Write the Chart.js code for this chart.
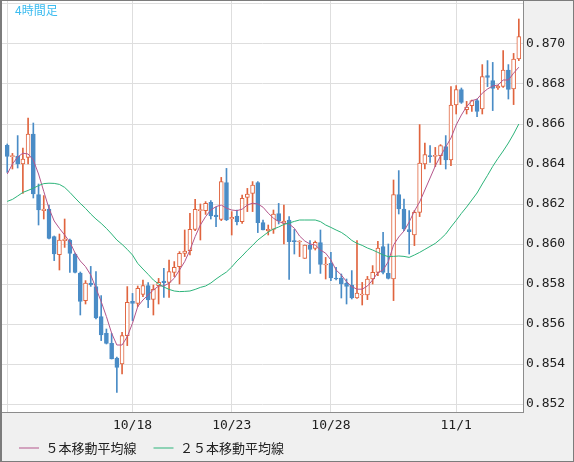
<!DOCTYPE html>
<html><head><meta charset="utf-8">
<script src="https://cdn.jsdelivr.net/npm/chart.js@4/dist/chart.umd.min.js"></script>
<style>
html,body{margin:0;padding:0;background:#f0f0f0;overflow:hidden;}
#wrap{position:relative;width:574px;height:462px;}
#c{display:block;}
#ttl{position:absolute;left:15px;top:2px;font-family:"Noto Sans CJK JP";font-size:12px;line-height:16px;color:#3bbcf0;}
</style></head><body>
<div id="wrap"><canvas id="c" width="574" height="462"></canvas><div id="ttl">4時間足</div></div>
<script>
const OPEN  = [0.86493,0.86437,0.86438,0.8640,0.86433,0.8655,0.86247,0.86167,0.86175,0.86037,
0.85947,0.86017,0.8602,0.8595,0.85855,0.85717,0.85805,0.85787,0.85637,0.85553,
0.85503,0.8543,0.854,0.85542,0.85713,0.85703,0.85748,0.85792,0.85723,0.85792,
0.85815,0.85808,0.85858,0.85887,0.85953,0.85967,0.86073,0.86167,0.86167,0.86208,
0.86145,0.86123,0.86307,0.86125,0.8614,0.86112,0.86233,0.86253,0.86307,0.86107,
0.86067,0.86073,0.86152,0.86103,0.8612,0.86017,0.8601,0.85928,0.85995,0.85978,
0.86007,0.85895,0.85903,0.8583,0.8583,0.85803,0.85795,0.8573,0.85745,0.85745,
0.85825,0.85858,0.85987,0.85853,0.85825,0.86247,0.86175,0.86072,0.86045,0.86158,
0.864,0.86442,0.86438,0.86442,0.86487,0.8642,0.86695,0.86772,0.86672,0.86692,
0.86717,0.86675,0.86842,0.86817,0.8678,0.86788,0.8687,0.86775,0.86925];
const HIGH  = [0.8650,0.86453,0.86542,0.8648,0.8663,0.86605,0.8630,0.86242,0.86195,0.8604,
0.8605,0.86125,0.86025,0.85955,0.8586,0.85817,0.85888,0.85862,0.85742,0.85575,
0.85553,0.85435,0.85558,0.85787,0.85753,0.8579,0.8582,0.85807,0.85795,0.85828,
0.85878,0.8592,0.85912,0.85962,0.8607,0.86153,0.86223,0.862,0.86212,0.86217,
0.86183,0.86333,0.86378,0.86162,0.8617,0.86245,0.86278,0.86312,0.86312,0.8612,
0.86095,0.8617,0.86203,0.86195,0.86137,0.86073,0.86017,0.85995,0.86017,0.86015,
0.8607,0.85933,0.85958,0.85883,0.8585,0.85825,0.85867,0.86017,0.85808,0.85838,
0.85892,0.86013,0.86058,0.860,0.8632,0.86367,0.86225,0.86167,0.86167,0.86597,
0.86505,0.86492,0.86483,0.86497,0.86542,0.86787,0.86792,0.8678,0.86713,0.8672,
0.86725,0.86897,0.86917,0.86908,0.86793,0.86967,0.86897,0.86953,0.87125];
const LOW   = [0.86358,0.86375,0.8638,0.86253,0.8640,0.8623,0.86095,0.86125,0.86025,0.85917,
0.8587,0.85983,0.85858,0.85855,0.85645,0.857,0.85788,0.85625,0.85517,0.8550,
0.85425,0.85258,0.8535,0.85492,0.85617,0.85687,0.85737,0.85682,0.85645,0.857,
0.85733,0.85733,0.85837,0.858,0.85937,0.85945,0.86067,0.8602,0.86148,0.86125,
0.86087,0.86117,0.86117,0.86045,0.86095,0.86103,0.86162,0.86162,0.86057,0.8607,
0.86045,0.86053,0.8610,0.860,0.85823,0.8595,0.85937,0.85928,0.85853,0.8597,
0.85853,0.85825,0.85817,0.8582,0.8573,0.857,0.85725,0.85728,0.85695,0.85722,
0.858,0.85842,0.8585,0.85825,0.85717,0.8615,0.86067,0.8595,0.85992,0.86137,
0.86375,0.86408,0.86387,0.86397,0.86375,0.86392,0.8665,0.86703,0.8665,0.86663,
0.86637,0.8665,0.86787,0.86667,0.86773,0.86783,0.86725,0.86697,0.86917];
const CLOSE = [0.86438,0.86442,0.8640,0.86425,0.8655,0.8625,0.8617,0.86175,0.86028,0.8595,
0.8602,0.86025,0.85953,0.85858,0.85713,0.85805,0.85795,0.8563,0.85545,0.85503,
0.85425,0.85383,0.85542,0.85708,0.85703,0.85778,0.85792,0.8572,0.85773,0.85808,
0.85807,0.85862,0.85883,0.85953,0.85965,0.86073,0.86173,0.86172,0.86203,0.8614,
0.86137,0.86312,0.8612,0.86133,0.86112,0.86228,0.8625,0.86295,0.86107,0.8607,
0.86073,0.8615,0.86117,0.86115,0.86012,0.86012,0.86015,0.85995,0.85973,0.86008,
0.85898,0.859,0.8583,0.85825,0.858,0.85788,0.8573,0.85755,0.8575,0.85825,
0.85858,0.8598,0.85858,0.85828,0.86247,0.86175,0.86075,0.86062,0.86158,0.86405,
0.86447,0.86437,0.86443,0.86492,0.8642,0.86695,0.86772,0.86708,0.86685,0.86717,
0.86663,0.86837,0.86833,0.86778,0.8679,0.8687,0.86773,0.86925,0.87037];
const MA5   = [0.8635,0.8640,0.86435,0.86454,0.8645,0.8642,0.8635,0.86263,0.86178,0.86115,
0.86078,0.86045,0.8601,0.85955,0.85915,0.85887,0.85845,0.85779,0.85712,0.85637,
0.85554,0.85495,0.85495,0.85537,0.85604,0.85687,0.8572,0.85745,0.8577,0.8579,
0.8579,0.85804,0.85829,0.8587,0.85912,0.8597,0.86037,0.86095,0.86137,0.8617,
0.86187,0.86195,0.86179,0.8617,0.86167,0.86174,0.86195,0.86204,0.862,0.86184,
0.86154,0.86129,0.86112,0.86104,0.861,0.86079,0.8604,0.86015,0.86,0.85995,
0.8597,0.85954,0.8592,0.8587,0.85845,0.85812,0.85787,0.85774,0.85774,0.8579,
0.8582,0.85857,0.8587,0.85912,0.85995,0.86035,0.86065,0.8611,0.86165,0.8621,
0.8627,0.8633,0.8639,0.8644,0.86485,0.8653,0.86595,0.86645,0.86687,0.86717,
0.86724,0.86754,0.86775,0.8679,0.86795,0.8682,0.8682,0.86854,0.86884];
const MA25  = [0.86213,0.86223,0.8624,0.86258,0.86268,0.86279,0.86292,0.86302,0.86304,0.86303,
0.86298,0.86283,0.86258,0.8623,0.86203,0.86178,0.8615,0.86125,0.86103,0.86078,
0.8605,0.8602,0.85998,0.85973,0.85945,0.85903,0.85875,0.85848,0.8582,0.858,
0.85785,0.85773,0.85765,0.85762,0.85763,0.85765,0.85773,0.85783,0.8579,0.85805,
0.85825,0.85843,0.8586,0.85885,0.85915,0.8594,0.85968,0.85993,0.8602,0.8604,
0.8606,0.86075,0.86085,0.86098,0.86105,0.86113,0.8612,0.8612,0.8612,0.8612,
0.86112,0.86095,0.86083,0.8607,0.86058,0.8604,0.86018,0.86003,0.85993,0.8598,
0.8597,0.85958,0.85945,0.85937,0.85938,0.8594,0.85938,0.85933,0.85945,0.85958,
0.85973,0.85988,0.86003,0.86025,0.8605,0.86085,0.86118,0.86153,0.86185,0.8622,
0.86255,0.863,0.86343,0.86388,0.86428,0.86465,0.86505,0.8655,0.866];
const X_TICK_POS    = [0, 24, 43, 62, 86];
const X_TICK_LABELS = ['', '10/18', '10/23', '10/28', '11/1'];
const Y_TICKS       = [0.852,0.854,0.856,0.858,0.860,0.862,0.864,0.866,0.868,0.870,0.872];
const Y_TICK_LABELS = ['0.852','0.854','0.856','0.858','0.860','0.862','0.864','0.866','0.868','0.870',''];
const SERIES_NAMES  = ['５本移動平均線', '２５本移動平均線'];

const RED = '#e0643e', BLUE = '#4a8cc6', PINK = '#b4568c', GREEN = '#2db47a';
const IDX = CLOSE.map((_, i) => i);
const up = i => CLOSE[i] >= OPEN[i];

const bgPlugin = {
  id: 'bg',
  beforeDraw(chart) {
    const {ctx, chartArea: a, width, height} = chart;
    ctx.save();
    ctx.fillStyle = '#f0f0f0'; ctx.fillRect(0, 0, width, height);
    ctx.fillStyle = '#ffffff'; ctx.fillRect(a.left, a.top, a.right - a.left, a.bottom - a.top);
    ctx.restore();
  },
  afterDraw(chart) {
    const {ctx, width, height} = chart;
    ctx.save();
    ctx.fillStyle = '#7c7c7c';
    ctx.fillRect(0, 0, 2, height);
    ctx.fillRect(0, 0, width, 1);
    ctx.fillRect(width - 1, 0, 1, height);
    ctx.fillRect(0, height - 1, width, 1);
    ctx.restore();
  }
};

const tickFont = {family: '"DejaVu Sans Mono"', size: 13};
const noPad = s => { s.paddingTop = 0; s.paddingBottom = 0; s.paddingLeft = 0; s.paddingRight = 0; };

new Chart(document.getElementById('c'), {
  type: 'bar',
  data: {
    datasets: [
      { label: 'wick', data: IDX.map(i => ({x: i, y: [LOW[i], HIGH[i]]})),
        backgroundColor: c => up(c.dataIndex) ? RED : BLUE, borderWidth: 0,
        barThickness: 1, grouped: false, order: 3 },
      { label: 'body', data: IDX.map(i => ({x: i, y: [OPEN[i], CLOSE[i]]})),
        backgroundColor: c => up(c.dataIndex) ? '#ffffff' : BLUE,
        borderColor: c => up(c.dataIndex) ? RED : BLUE, borderWidth: 1,
        borderSkipped: false, barThickness: 4, minBarLength: 1, grouped: false, order: 2 },
      { type: 'line', label: SERIES_NAMES[0], data: IDX.map(i => ({x: i, y: MA5[i]})),
        borderColor: PINK, backgroundColor: PINK, borderWidth: 1, pointRadius: 0, tension: 0, order: 1 },
      { type: 'line', label: SERIES_NAMES[1], data: IDX.map(i => ({x: i, y: MA25[i]})),
        borderColor: GREEN, backgroundColor: GREEN, borderWidth: 1, pointRadius: 0, tension: 0, order: 0 }
    ]
  },
  options: {
    responsive: false, devicePixelRatio: 1, animation: false, events: [],
    layout: {padding: {left: 2, top: 1, right: 0, bottom: 0}},
    scales: {
      x: {
        type: 'linear', min: -1, max: 98.8, offset: false,
        grid: {color: '#dedede', drawTicks: false, offset: false},
        border: {color: '#8c8c8c'},
        afterBuildTicks: s => { s.ticks = X_TICK_POS.map(v => ({value: v})); },
        afterFit: s => { s.height = 12.5; noPad(s); s._computeLabelArea = () => undefined; },
        ticks: {autoSkip: false, maxRotation: 0, padding: 6, color: '#222', font: tickFont,
                callback: (v, i) => X_TICK_LABELS[i]}
      },
      y: {
        type: 'linear', position: 'right', min: 0.8516, max: 0.87215,
        grid: {color: '#dedede', drawTicks: false},
        border: {color: '#8c8c8c'},
        afterBuildTicks: s => { s.ticks = Y_TICKS.map(v => ({value: v})); },
        afterFit: s => { s.width = 51; noPad(s); },
        ticks: {padding: 3, color: '#222', font: tickFont, callback: (v, i) => Y_TICK_LABELS[i]}
      }
    },
    plugins: {
      tooltip: {enabled: false},
      legend: {
        position: 'bottom', align: 'start', maxHeight: 37.5,
        labels: {
          usePointStyle: true, pointStyle: 'line', pointStyleWidth: 20, padding: 17,
          color: '#222', font: {family: '"Noto Sans CJK JP"', size: 13},
          filter: item => item.datasetIndex >= 2,
          sort: (a, b) => a.datasetIndex - b.datasetIndex
        }
      }
    }
  },
  plugins: [bgPlugin]
});
</script>
</body></html>
